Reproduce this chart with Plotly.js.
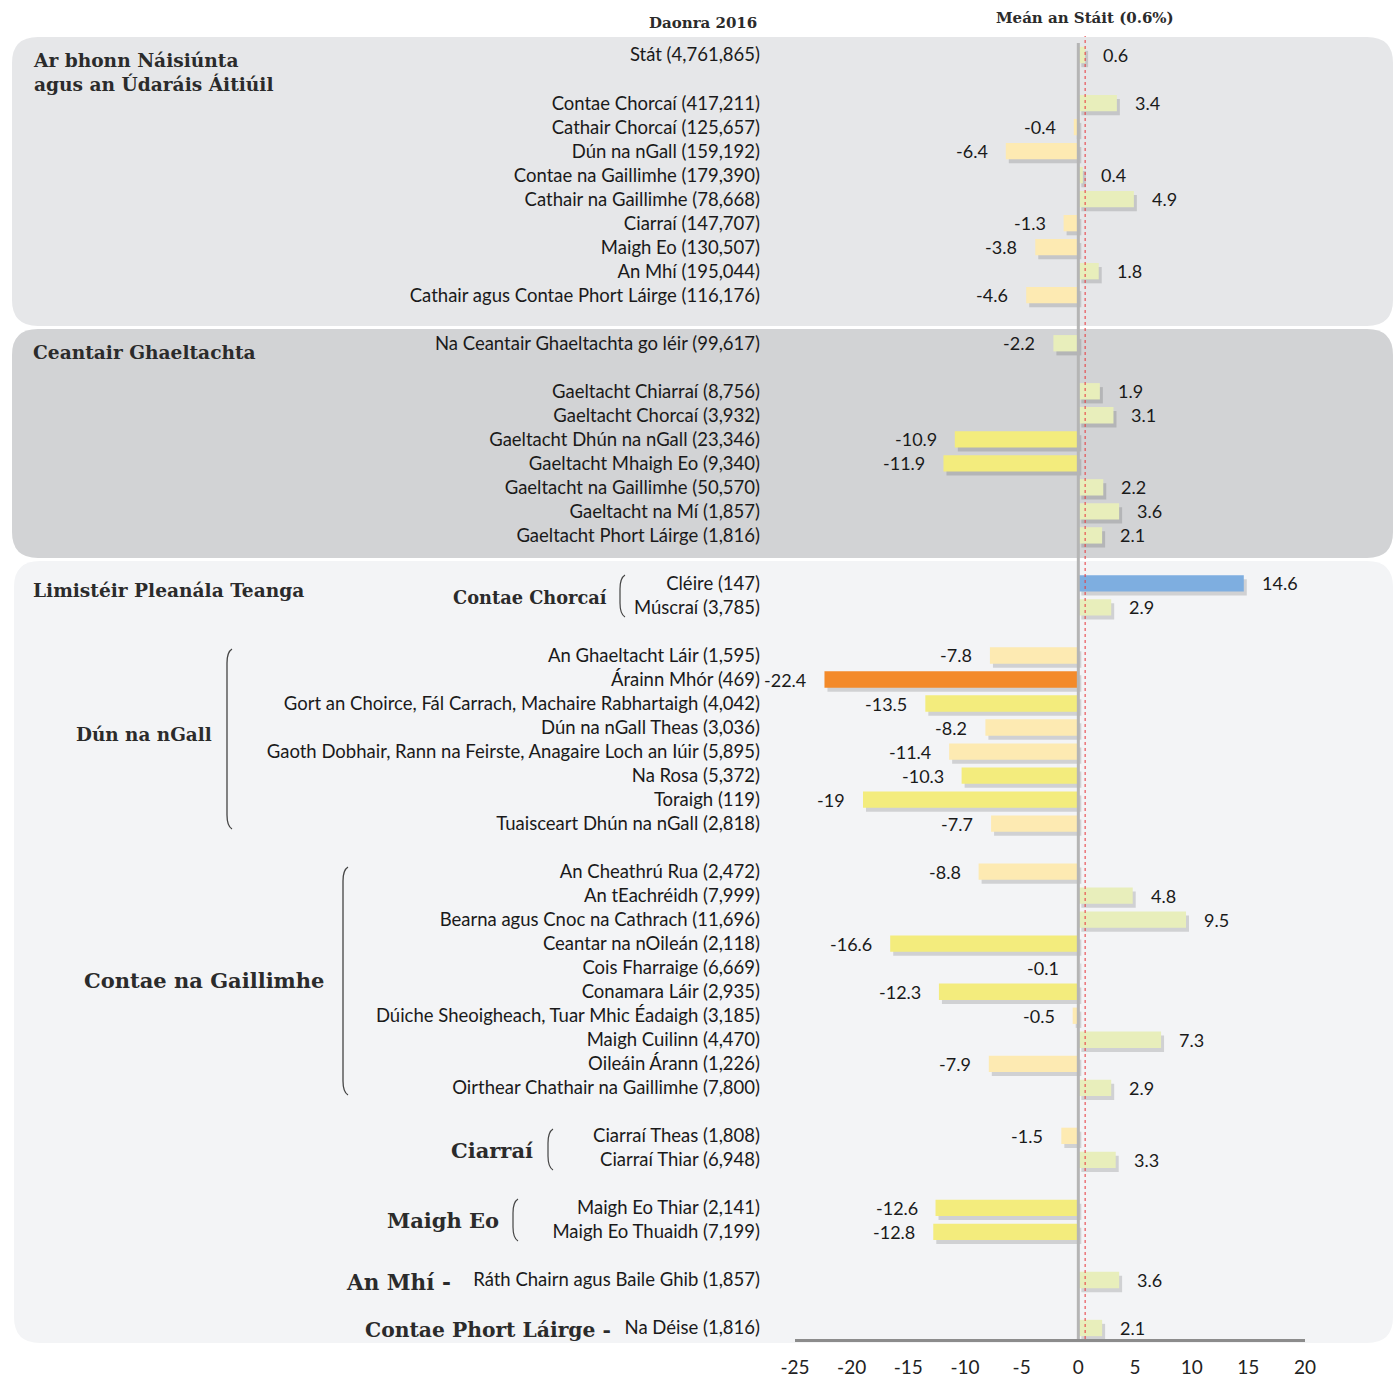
<!DOCTYPE html>
<html>
<head>
<meta charset="utf-8">
<script src="https://cdn.plot.ly/plotly-3.0.1.min.js"></script>
<style>
html,body{margin:0;padding:0;background:#fff;}
#chart{width:1394px;height:1382px;}
</style>
</head>
<body>
<div id="chart"></div>
<script>
// ---- DATA ----
const labels = [
  "Stát (4,761,865)", "",
  "Contae Chorcaí (417,211)", "Cathair Chorcaí (125,657)", "Dún na nGall (159,192)",
  "Contae na Gaillimhe (179,390)", "Cathair na Gaillimhe (78,668)", "Ciarraí (147,707)",
  "Maigh Eo (130,507)", "An Mhí (195,044)", "Cathair agus Contae Phort Láirge (116,176)", "",
  "Na Ceantair Ghaeltachta go léir (99,617)", "",
  "Gaeltacht Chiarraí (8,756)", "Gaeltacht Chorcaí (3,932)", "Gaeltacht Dhún na nGall (23,346)",
  "Gaeltacht Mhaigh Eo (9,340)", "Gaeltacht na Gaillimhe (50,570)", "Gaeltacht na Mí (1,857)",
  "Gaeltacht Phort Láirge (1,816)", "",
  "Cléire (147)", "Múscraí (3,785)", "",
  "An Ghaeltacht Láir (1,595)", "Árainn Mhór (469)",
  "Gort an Choirce, Fál Carrach, Machaire Rabhartaigh (4,042)", "Dún na nGall Theas (3,036)",
  "Gaoth Dobhair, Rann na Feirste, Anagaire Loch an Iúir (5,895)", "Na Rosa (5,372)",
  "Toraigh (119)", "Tuaisceart Dhún na nGall (2,818)", "",
  "An Cheathrú Rua (2,472)", "An tEachréidh (7,999)", "Bearna agus Cnoc na Cathrach (11,696)",
  "Ceantar na nOileán (2,118)", "Cois Fharraige (6,669)", "Conamara Láir (2,935)",
  "Dúiche Sheoigheach, Tuar Mhic Éadaigh (3,185)", "Maigh Cuilinn (4,470)",
  "Oileáin Árann (1,226)", "Oirthear Chathair na Gaillimhe (7,800)", "",
  "Ciarraí Theas (1,808)", "Ciarraí Thiar (6,948)", "",
  "Maigh Eo Thiar (2,141)", "Maigh Eo Thuaidh (7,199)", "",
  "Ráth Chairn agus Baile Ghib (1,857)", "",
  "Na Déise (1,816)"
];
const values = [
  0.6, null,
  3.4, -0.4, -6.4, 0.4, 4.9, -1.3, -3.8, 1.8, -4.6, null,
  -2.2, null,
  1.9, 3.1, -10.9, -11.9, 2.2, 3.6, 2.1, null,
  14.6, 2.9, null,
  -7.8, -22.4, -13.5, -8.2, -11.4, -10.3, -19, -7.7, null,
  -8.8, 4.8, 9.5, -16.6, -0.1, -12.3, -0.5, 7.3, -7.9, 2.9, null,
  -1.5, 3.3, null,
  -12.6, -12.8, null,
  3.6, null,
  2.1
];
const shades = [
  "g", "",
  "g", "c", "c", "g", "g", "c", "c", "g", "c", "",
  "g", "",
  "g", "g", "y", "y", "g", "g", "g", "",
  "b", "g", "",
  "c", "o", "y", "c", "c", "y", "y", "c", "",
  "c", "g", "g", "y", "g", "y", "c", "g", "c", "g", "",
  "c", "g", "",
  "y", "y", "",
  "g", "",
  "g"
];
const xTicks = [-25, -20, -15, -10, -5, 0, 5, 10, 15, 20];
const stateMean = values[0];

// ---- STYLE ----
const shadeColors = {g: "#e8eebb", c: "#fdeab2", y: "#f3ec7d", o: "#f38a2a", b: "#7eaee0"};
const LABEL_FONT = "Lato, 'Open Sans', sans-serif";
const HEAD_FONT = "'DejaVu Serif', serif";

// pixel geometry of plot area
const L = 795, R = 1305, T = 43, B = 1339, W = 1394, H = 1382;
const px = X => (X - L) / (R - L);
const py = Y => (B - Y) / (B - T);

const idx = [], xs = [], cols = [], tv = [], tt = [];
values.forEach((v, i) => {
  if (labels[i] !== "") { tv.push(i); tt.push(labels[i]); }
  if (v !== null) { idx.push(i); xs.push(v); cols.push(shadeColors[shades[i]]); }
});

const xRange = [-25, 20];
const yRange = [53.458, -0.5];
const pxPerX = (R - L) / (xRange[1] - xRange[0]), pxPerY = (B - T) / (yRange[0] - yRange[1]);
const sdx = 3 / pxPerX, sdy = 4 / pxPerY;

// shadow on hidden base axes (x,y), bars on the visible overlay axes (x2,y2)
const shadow = {
  type: "bar", orientation: "h", y: idx, x: xs, width: 0.68,
  marker: {color: "rgba(0,0,0,0.14)", line: {width: 0}}, xaxis: "x", yaxis: "y",
  hoverinfo: "skip", showlegend: false
};
const bars = {
  type: "bar", orientation: "h", y: idx, x: xs, width: 0.68,
  marker: {color: cols, line: {width: 0}}, xaxis: "x2", yaxis: "y2",
  hoverinfo: "skip", showlegend: false
};

function roundRect(x0, y0, x1, y1, r) {
  const P = (X, Y) => px(X).toFixed(5) + "," + py(Y).toFixed(5);
  return "M" + P(x0 + r, y0) + " L" + P(x1 - r, y0) + " Q" + P(x1, y0) + " " + P(x1, y0 + r) +
    " L" + P(x1, y1 - r) + " Q" + P(x1, y1) + " " + P(x1 - r, y1) +
    " L" + P(x0 + r, y1) + " Q" + P(x0, y1) + " " + P(x0, y1 - r) +
    " L" + P(x0, y0 + r) + " Q" + P(x0, y0) + " " + P(x0 + r, y0) + " Z";
}
function bracket(x, y0, y1) {
  const P = (X, Y) => px(X).toFixed(5) + "," + py(Y).toFixed(5);
  return "M" + P(x + 5, y0) + " Q" + P(x, y0 + 3) + " " + P(x, y0 + 14) +
    " L" + P(x, y1 - 14) + " Q" + P(x, y1 - 3) + " " + P(x + 5, y1);
}

const shapes = [
  {type: "path", xref: "paper", yref: "paper", layer: "below", path: roundRect(12, 37, 1393, 326, 26), fillcolor: "#e6e7e9", line: {width: 0}},
  {type: "path", xref: "paper", yref: "paper", layer: "below", path: roundRect(12, 329, 1393, 558, 26), fillcolor: "#d2d3d5", line: {width: 0}},
  {type: "path", xref: "paper", yref: "paper", layer: "below", path: roundRect(14, 561, 1393, 1343, 26), fillcolor: "#f3f4f6", line: {width: 0}},
  {type: "line", xref: "x2", yref: "paper", x0: 0, x1: 0, y0: 0, y1: 1, line: {color: "#b5b5b5", width: 3}},
  {type: "line", xref: "x2", yref: "paper", x0: stateMean, x1: stateMean, y0: 0, y1: py(36), line: {color: "#e8353a", width: 1, dash: "dot"}},
  {type: "path", xref: "paper", yref: "paper", path: bracket(620, 575, 617), line: {color: "#444", width: 1.2}},
  {type: "path", xref: "paper", yref: "paper", path: bracket(227, 649, 829), line: {color: "#444", width: 1.3}},
  {type: "path", xref: "paper", yref: "paper", path: bracket(343, 867, 1095), line: {color: "#444", width: 1.3}},
  {type: "path", xref: "paper", yref: "paper", path: bracket(548, 1129, 1170), line: {color: "#444", width: 1.2}},
  {type: "path", xref: "paper", yref: "paper", path: bracket(513, 1199, 1241), line: {color: "#444", width: 1.2}}
];

const annotations = [];
// value labels
idx.forEach((i, k) => {
  const v = xs[k];
  annotations.push({
    xref: "x2", yref: "y2", x: v, y: i, text: String(v), showarrow: false,
    xanchor: v >= 0 ? "left" : "right", xshift: v >= 0 ? 16 : -16, yshift: 0,
    font: {family: LABEL_FONT, size: 18, color: "#1a1a1a"}
  });
});
function head(text, X, Y, size, anchor) {
  annotations.push({
    xref: "paper", yref: "paper", x: px(X), y: py(Y), text: text, showarrow: false,
    xanchor: anchor, yanchor: "middle", align: anchor,
    font: {family: HEAD_FONT, size: size, color: "#2b2b2b", weight: "bold"}
  });
}
head("Daonra 2016", 703, 23, 15, "center");
head("Meán an Stáit (0.6%)", 1085, 18, 15, "center");
head("Ar bhonn Náisiúnta<br>agus an Údaráis Áitiúil", 31, 73, 18.6, "left");
head("Ceantair Ghaeltachta", 31, 352, 18.6, "left");
head("Limistéir Pleanála Teanga", 31, 590, 18.6, "left");
head("Contae Chorcaí", 609, 597, 17.8, "right");
head("Dún na nGall", 214, 734, 18.4, "right");
head("Contae na Gaillimhe", 326, 980, 21, "right");
head("Ciarraí", 535, 1150, 21, "right");
head("Maigh Eo", 501, 1220, 21, "right");
head("An Mhí -", 453, 1282, 21.5, "right");
head("Contae Phort Láirge -", 613, 1330, 20.3, "right");

const layout = {
  width: W, height: H,
  margin: {l: L, r: W - R, t: T, b: H - B, pad: 0},
  paper_bgcolor: "#ffffff", plot_bgcolor: "rgba(0,0,0,0)",
  barmode: "overlay", showlegend: false,
  xaxis: {range: [xRange[0] - sdx, xRange[1] - sdx], visible: false, fixedrange: true},
  yaxis: {range: [yRange[0] - sdy, yRange[1] - sdy], visible: false, fixedrange: true},
  xaxis2: {
    overlaying: "x", side: "bottom", anchor: "y2",
    range: xRange, tickmode: "array", tickvals: xTicks, ticktext: xTicks.map(String),
    showgrid: false, zeroline: false, showline: true, linecolor: "#8c8c8c", linewidth: 3,
    ticks: "", ticklabelstandoff: 9, tickfont: {family: LABEL_FONT, size: 19, color: "#222"},
    fixedrange: true
  },
  yaxis2: {
    overlaying: "y", side: "left", anchor: "x2",
    range: yRange, tickmode: "array", tickvals: tv, ticktext: tt,
    showgrid: false, zeroline: false, showline: false, ticks: "", ticklen: 0,
    ticklabelstandoff: 34, tickfont: {family: LABEL_FONT, size: 18.5, color: "#1a1a1a"},
    fixedrange: true
  },
  shapes: shapes,
  annotations: annotations
};

Plotly.newPlot("chart", [shadow, bars], layout, {displayModeBar: false, staticPlot: true});
</script>
</body>
</html>
